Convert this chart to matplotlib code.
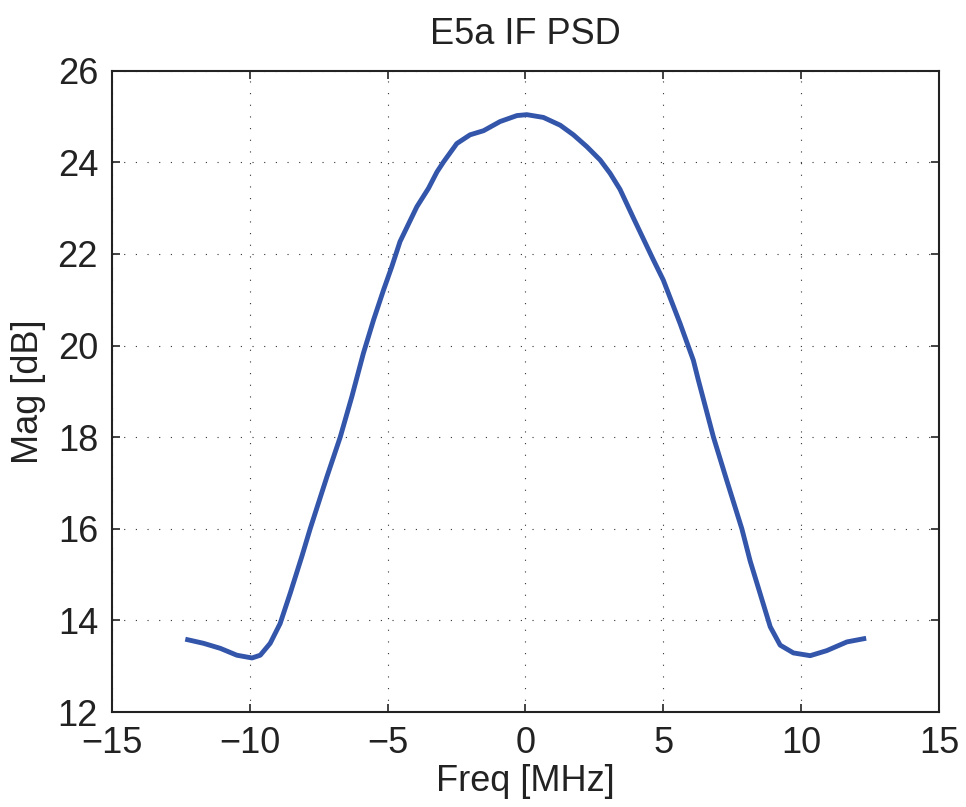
import matplotlib
matplotlib.use('Agg')
import matplotlib.pyplot as plt
import numpy as np

# dane
freq_mhz = [-12.34, -11.68, -11.07, -10.47, -9.92, -9.62, -9.26, -8.90, -8.53,
            -8.11, -7.81, -7.20, -6.72, -6.30, -5.88, -5.51, -5.15, -4.85,
            -4.55, -3.94, -3.52, -3.21, -2.97, -2.49, -2.01, -1.52, -0.92,
            -0.31, 0.05, 0.65, 1.26, 1.74, 2.23, 2.71, 3.07, 3.43, 3.92, 4.64,
            5.00, 5.61, 6.09, 6.27, 6.82, 7.30, 7.85, 8.15, 8.51, 8.88, 9.24,
            9.72, 10.33, 10.93, 11.66, 12.36]
mag_db = [13.59, 13.50, 13.39, 13.24, 13.18, 13.24, 13.50, 13.93, 14.60,
          15.40, 16.00, 17.14, 18.00, 18.88, 19.83, 20.56, 21.21, 21.72,
          22.27, 23.03, 23.43, 23.79, 24.01, 24.41, 24.60, 24.69, 24.89,
          25.02, 25.04, 24.98, 24.81, 24.60, 24.34, 24.05, 23.76, 23.41, 22.78, 21.87,
          21.43, 20.48, 19.68, 19.25, 18.00, 17.06, 16.00, 15.30, 14.59, 13.86, 13.46,
          13.29, 13.23, 13.34, 13.53, 13.61]

x_ticks = [-15, -10, -5, 0, 5, 10, 15]
y_ticks = [12, 14, 16, 18, 20, 22, 24, 26]

plt.rcParams['font.family'] = ['Liberation Sans', 'DejaVu Sans']

fig = plt.figure(figsize=(9.66, 8.07), dpi=100)
ax = fig.add_axes([0.1159, 0.1177, 0.8561, 0.7947])

ax.plot(freq_mhz, mag_db, color='#3355aa', linewidth=3.5,
        solid_joinstyle='round', solid_capstyle='butt')

ax.set_xlim(-15, 15)
ax.set_ylim(12, 26)
ax.set_xticks(x_ticks)
ax.set_yticks(y_ticks)
ax.grid(True, color='#333333', linestyle=(0, (1, 9.5)), linewidth=0.8)

ax.tick_params(direction='in', length=6, width=1.2, top=True, right=True,
               labelsize=26, pad=10, colors='#222222')
for s in ax.spines.values():
    s.set_linewidth(1.5)
    s.set_color('#222222')

ax.set_title('E5a IF PSD', fontsize=26, pad=19, color='#222222')
ax.set_xlabel('Freq [MHz]', fontsize=26, labelpad=2, color='#222222')
ax.set_ylabel('Mag [dB]', fontsize=26, labelpad=8, color='#222222')

fig.savefig('out.png', dpi=100)
